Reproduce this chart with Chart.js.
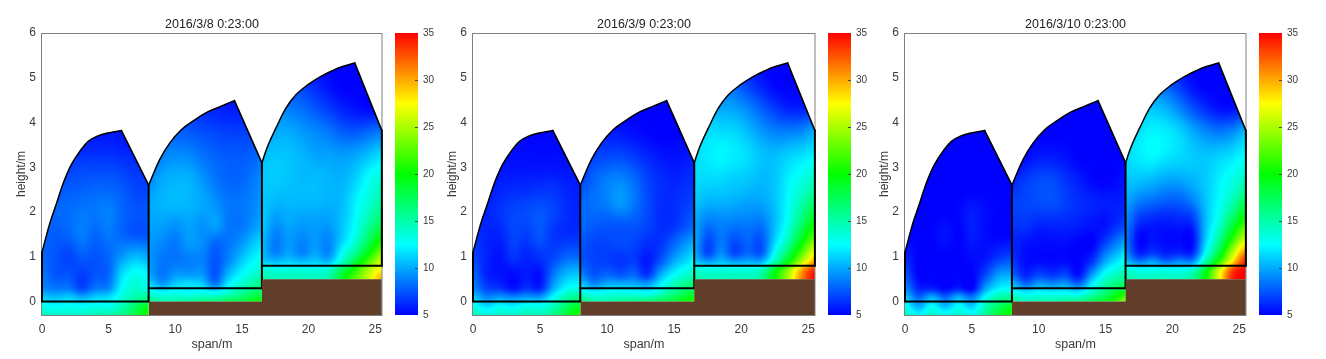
<!DOCTYPE html>
<html><head><meta charset="utf-8">
<style>html,body{margin:0;padding:0;background:#fff;width:1326px;height:359px;overflow:hidden}
canvas{position:absolute;top:0;filter:blur(0.35px)}</style>
<script src="https://cdn.jsdelivr.net/npm/chart.js@4/dist/chart.umd.min.js"></script>
</head><body>
<script>
// ---------- categories / tick labels ----------
const panelTitles = ['2016/3/8 0:23:00','2016/3/9 0:23:00','2016/3/10 0:23:00'];
const xTickValues = [0,5,10,15,20,25];
const colorTicks = [5,10,15,20,25,30,35];
const jetStops = [[5,'#0000ff'],[12.5,'#00ffff'],[20,'#00ff00'],[27.5,'#ffff00'],[35,'#ff0000']];

// ---------- greenhouse geometry (m) ----------
const arch1 = [[0,1.1],[0.6,1.76],[1.1,2.2],[1.6,2.65],[2.2,3.06],[2.85,3.36],[3.47,3.58],[4.1,3.69],[4.84,3.76],[5.96,3.82]];
const arch2 = [[8,2.6],[8.83,3.17],[9.58,3.54],[10.45,3.84],[11.32,4.03],[12.32,4.22],[13.32,4.35],[14.44,4.49]];
const arch3 = [[16.5,3.1],[16.93,3.47],[17.56,3.88],[18.3,4.32],[19.05,4.62],[19.93,4.84],[20.8,5.01],[21.8,5.16],[22.55,5.25],[23.47,5.33]];
const roof1 = [[5.96,3.82],[8,2.6]], roof2 = [[14.44,4.49],[16.5,3.1]], roof3 = [[23.47,5.33],[25.5,3.82]];
const floor1 = [[0,0],[8,0]], floor2 = [[8,0.3],[16.5,0.3]], floor3 = [[16.5,0.8],[25.5,0.8]];
const wall1 = [[0,0],[0,1.1]], wall2 = [[8,0],[8,2.6]], wall3 = [[16.5,0.3],[16.5,3.1]], wall4 = [[25.5,0.8],[25.5,3.82]];
const soilTop = [[8,0],[16.5,0],[16.5,0.5],[25.5,0.5]];
const base1 = [[8,2.6],[8,-0.3],[0,-0.3]], base2 = [[16.5,3.1],[16.5,0],[8,0]], base3 = [[25.5,3.82],[25.5,0.5],[16.5,0.5]];

// ---------- temperature grids (°C): rows go upward, columns left to right ----------
const xs1 = [0,1,2,3,4,5,6,7,8];
const xs2 = [8,9,10,11,12,13,14,15,16,16.5];
const xs3 = [16.5,17.5,18.5,19.5,20.5,21.5,22.5,23.5,24.5,25.5];
const ys1 = [-0.3,-0.1,0.1,0.3,0.6,1,1.5,2,2.5,3,3.5,4];
const ys2 = [0,0.2,0.4,0.6,0.9,1.3,1.7,2.2,2.7,3.2,3.7,4.2,4.6];
const ys3 = [0.5,0.7,0.9,1.1,1.4,1.8,2.3,2.8,3.3,3.8,4.3,4.8,5.4];

const day1span1 = [
[14.5,14,14,14,14.5,15,16,18,20.5],
[13,12.5,12.8,12.5,13,13,14.5,17,19],
[11,10.5,11,10,11,11.5,13.5,15,15.5],
[9,8.5,8.5,7,8.5,9,12.5,14,13],
[8.5,7.5,7.5,6.8,7.5,8,11.5,13,12.5],
[8,7.5,7,7.7,7.5,8,9.5,10.5,10],
[8,7.7,8,8.7,8,8.5,8,7.5,7.5],
[8,8,8.2,8.5,8.5,8.8,8,7.5,7.5],
[7,7.5,7.7,7.8,8,8,7.7,7,7],
[6.5,6.7,6.8,7,7,7,6.8,6.5,6.5],
[6,6,6,6,6,6,5.8,5.8,6],
[5.5,5.5,5.5,5.5,5.5,5.5,5.5,5.5,5.5]];
const day1span2 = [
[16,15,15,15.5,16,16.5,17.5,18,19.5,20],
[13.5,12.5,13,12.5,13,12.5,14,15.5,17,17.5],
[11.5,9.5,11,11.5,11,8.5,12,14,15.5,16],
[10,8.5,9.5,9.5,9.5,7.5,10.5,12.5,14,14.5],
[9.5,8.5,8.5,8.7,8.8,7.5,9,11,12.5,13],
[9.5,9,8.5,9.5,9.2,8,8.5,9.5,11,11.5],
[9.8,9.7,9.3,9.8,9.3,9.7,8.5,8.5,9.5,10],
[10,10.3,10.5,10.3,10,9.3,8.5,8.5,9,9.5],
[9,10,10.3,10.3,9.5,8.5,8,8,8.7,9.2],
[8,9,9.3,9.2,8.5,8,7.7,7.7,8,8.5],
[7,8,8,7.8,7.5,7.2,7,7,7.2,7.5],
[6.5,7,7,6.8,6.5,6.2,6,6,6,6],
[6,6,6,6,6,5.8,5.5,5.5,5.5,5.5]];
const day1span3 = [
[15,14.5,14.5,14.5,14.5,15,19,22.5,26,30],
[14,13.5,13.5,13.5,13.5,14,17.5,21,25,28],
[11,10.5,11,10.5,11,10.5,14,18,22,26],
[10.5,8.8,9.8,8.8,9.8,9,12.5,15.5,19.5,23.5],
[10.5,8.7,9.5,9,9.5,9,11,13.5,17,20],
[11,9.5,10,9.7,9.8,9.7,10.7,12.5,15,17],
[11,10.5,10.5,10.5,10.5,10.3,10.5,12,13.5,15],
[11,11,10.8,10.5,10.5,10.3,10.2,11,12.5,13.5],
[10.5,10.8,10.7,10.3,9.8,9.7,9.5,9.8,10.5,11.5],
[9.5,10,10,9.5,9,8.5,7.7,7.5,8,8.5],
[8.5,9,8.7,8.3,7.5,6.8,6,5.5,5.2,5.5],
[7.5,7.5,7.2,7,6.2,5.5,5,5,5,5],
[7,7,6.5,6,5.2,5,5,5,5,5]];

const day2span1 = [
[14.5,13.5,14,14,14.5,14.5,16,18.5,21],
[13,11.5,12.5,12,13,13,14.5,17,19],
[11,9,9.5,9,9.5,9.5,12.5,15,16],
[9,7,6.5,5.5,6.5,6,10,12.5,13],
[8,6,5.5,5.3,5.8,5.5,8.5,10.5,11],
[7,6,5.5,6.5,6,6.5,7,8,8],
[6.5,6,6,7,6.8,7.5,6.5,6.3,6.3],
[6,6,6.5,7,7.2,7.5,7,6.3,6],
[5.5,5.5,6,6.2,6.3,6.5,6.5,6,5.8],
[5.5,5.5,5.5,5.5,5.5,5.5,5.5,5.5,5.5],
[5.2,5.2,5.2,5.2,5.2,5.2,5.2,5.2,5.2],
[5,5,5,5,5,5,5,5,5]];
const day2span2 = [
[17,15,15,15.5,16,16.5,17.5,18.5,20,21],
[13.5,12.5,13,13,13,12.5,14,16,17.5,18],
[11,9,10,10,10,9.5,12,14.5,16,16.5],
[9,7.5,8,7.5,8,6.5,10,12.5,14,14.5],
[7.5,7,6.8,6.5,6.7,5.7,7.5,10,11.5,12.5],
[7.5,7,7,7.2,7,6.3,6.5,8,9.5,10],
[8,7.7,7.5,7.5,7.5,7,6.3,6.5,7.5,8],
[8,8.3,8.7,9.5,8.5,7.2,6.3,6.3,6.8,7],
[7,8,8.7,9,8.2,7,6.3,6,6.3,6.3],
[6,7,7.2,7.3,6.8,6.2,5.7,5.5,5.7,6],
[5.5,6,6,5.8,5.5,5.2,5,5,5.2,5.3],
[5.5,5.5,5.2,5,5,5,5,5,5,5],
[5,5,5,5,5,5,5,5,5,5]];
const day2span3 = [
[15,14.5,14.5,14.5,14.5,15.5,20,25,31,35],
[14,13.5,13.5,13.5,13.5,14.5,19,24,30,34],
[11,9.5,10.5,9.5,10,10,14.5,19.5,25,30],
[10,7,9,7,8,7.5,12.5,17,22,27],
[10,7.3,8.5,7.5,8,7.5,11,14.5,19,23],
[10,8.8,9,8.8,8.8,8.7,10.5,13,16.5,19.5],
[11,10.5,10.5,10.3,10,10,10.8,12.5,14.5,16.5],
[11.5,11.5,11.5,11.2,11,10.5,10.8,12,13,14],
[11.5,12,12.3,12,11.5,10.7,10.5,11,11.5,12],
[11,11.5,11.5,11.3,10.5,9.5,8.8,8.7,9,10],
[9.5,10.2,10,9.8,9,7.8,6.8,6,6,6.5],
[8,8,8.3,8,7,6,5.2,5,5,5],
[6.5,6.5,6.5,6,5.3,5,5,5,5,5]];

const day3span1 = [
[14.5,12.5,14,13,14,13,15.5,18.5,20.5],
[13,10,12.5,10.5,12.5,11,14.5,17,19],
[11,8,10,8,10,8.5,12.5,15,15.5],
[9,6,5.8,5,5.8,5,9.5,12,12.5],
[7.5,5,5,5,5,5,7,9.5,10],
[6,5,5,5,5,5.3,5.5,6.5,7],
[5,5,5,5.5,5,5.8,5.3,5,5],
[5,5,5,5,5.1,5.8,5.3,5,5],
[5,5,5,5,5,5,5,5,5],
[5,5,5,5,5,5,5,5,5],
[5,5,5,5,5,5,5,5,5],
[5,5,5,5,5,5,5,5,5]];
const day3span2 = [
[16,14.5,15,15,15.5,16,17.5,19,22,24],
[13,12,12.5,12.3,12.5,12,14.5,16.5,19,20],
[10.5,8,9.5,9,9.5,8,12,15,16.5,17],
[8,6,7,6.5,7,5.5,9.5,13,14.5,15],
[6.5,5.3,5.3,5.2,5.3,5,6.5,10,12,13],
[6,5.5,5.3,5.3,5.3,5,5,7,9,10],
[6.5,6.5,6,6,6,5.8,5.5,5.5,6.5,7],
[7,7,7.2,7.3,6.8,6.3,6,5.8,5.8,6],
[6,6.7,7.2,7.2,6.5,5.8,5.2,5,5.3,5.5],
[5,5.3,5.8,5.8,5.5,5,5,5,5,5],
[5,5,5,5,5,5,5,5,5,5],
[5,5,5,5,5,5,5,5,5,5],
[5,5,5,5,5,5,5,5,5,5]];
const day3span3 = [
[15,14.5,14.5,14.5,14.5,15.5,20,27,34,35],
[14,13,13,13,13,14,19,26,33,35],
[10.5,8.5,9.5,8,9,9,15,21,28,34],
[9,5.8,6.5,5.8,6,6,12.5,18,25,31],
[8.5,5.2,5.5,5.2,5.2,5.3,11,15.5,21,26],
[9,6.5,6,5.8,6,6.5,10.5,13.5,17.5,21],
[10,9,8.5,8,8,9,10.8,12.5,14.5,17],
[11,11,10.8,10.2,10.2,10.5,11,12,13,14],
[11.5,12,12.5,12,11.5,11,10.7,11,11.5,12.5],
[11,11.7,12.2,12,11.3,10,9,8.5,9,10.5],
[9.5,10.5,10.8,10.3,9,7.5,6.3,5.5,5.5,6],
[8,8.5,8.5,8,6.8,5.5,5,5,5,5],
[6,6,6,5.5,5,5,5,5,5,5]];

// ---------- layout ----------
const plotLefts = [42,473,905];
const plotWidths = [341,343,342];
const barLefts = [395,828,1259];
const FONT = '"Liberation Sans", Arial, sans-serif';
const TEXT = '#3a3a3a';

function toXY(a){return a.map(p=>({x:p[0],y:p[1]}));}
function jet(v){
  const t=Math.max(0,Math.min(1,(v-5)/30))*4, i=Math.min(3,Math.floor(t)), f=t-i;
  const c=[[0,0,255],[0,255,255],[0,255,0],[255,255,0],[255,0,0]];
  return [0,1,2].map(k=>c[i][k]+(c[i+1][k]-c[i][k])*f);
}
function locate(arr,v){
  let i=0; while(i<arr.length-2 && v>arr[i+1]) i++;
  return i+Math.max(0,Math.min(1,(v-arr[i])/(arr[i+1]-arr[i])));
}
function cr(a,b,c,d,t){return b+0.5*t*(c-a+t*(2*a-5*b+4*c-d+t*(3*(b-c)+d-a)));}
function sample(g,u,w){
  const R=g.length-1,C=g[0].length-1;
  const j=Math.min(R-1,Math.floor(w)),fj=w-j,i=Math.min(C-1,Math.floor(u)),fi=u-i;
  const row=[];
  for(let r=j-1;r<=j+2;r++){
    const q=g[Math.max(0,Math.min(R,r))];
    const at=k=>q[Math.max(0,Math.min(C,k))];
    row.push(cr(at(i-1),at(i),at(i+1),at(i+2),fi));
  }
  return cr(row[0],row[1],row[2],row[3],fj);
}
function heatSpan(chart,grid,xs,ys,archIndex,tail){
  const {ctx,chartArea:a,scales:{x,y}}=chart;
  const W=Math.ceil(a.right-a.left),H=Math.ceil(a.bottom-a.top);
  const off=document.createElement('canvas');off.width=W;off.height=H;
  const oc=off.getContext('2d');const img=oc.createImageData(W,H);
  const pxL=x.getPixelForValue(xs[0]),pxR=x.getPixelForValue(xs[xs.length-1]);
  for(let py=0;py<H;py++){
    const w=locate(ys,y.getValueForPixel(a.top+py+.5));
    for(let px=Math.max(0,Math.floor(pxL-a.left)-1);px<Math.min(W,Math.ceil(pxR-a.left)+1);px++){
      const u=locate(xs,x.getValueForPixel(a.left+px+.5));
      const rgb=jet(sample(grid,u,w)),o=(py*W+px)*4;
      img.data[o]=rgb[0];img.data[o+1]=rgb[1];img.data[o+2]=rgb[2];img.data[o+3]=255;
    }
  }
  oc.putImageData(img,0,0);
  ctx.save();ctx.beginPath();
  // the curved part of the clip is the arch line element itself, so fill and outline agree
  chart.getDatasetMeta(archIndex).dataset.path(ctx);
  tail.forEach(p=>ctx.lineTo(x.getPixelForValue(p[0]),y.getPixelForValue(p[1])));
  ctx.closePath();ctx.clip();ctx.drawImage(off,a.left,a.top);ctx.restore();
}
const heatGrids=[[day1span1,day1span2,day1span3],[day2span1,day2span2,day2span3],[day3span1,day3span2,day3span3]];
const heatPlugin={id:'heat',beforeDatasetsDraw(chart,args,opts){
  const g=heatGrids[opts.panel];
  heatSpan(chart,g[0],xs1,ys1,1,base1);
  heatSpan(chart,g[1],xs2,ys2,2,base2);
  heatSpan(chart,g[2],xs3,ys3,3,base3);
  const a=chart.chartArea,c=chart.ctx;
  c.save();c.strokeStyle='#808080';c.lineWidth=1;
  c.strokeRect(Math.round(a.left)-.5,Math.round(a.top)+.5,Math.round(a.right-a.left)+.5,Math.round(a.bottom-a.top));
  c.restore();
}};
function lineDs(pts,w,tension){return {type:'scatter',showLine:true,data:toXY(pts),borderColor:'#000',borderWidth:w,pointRadius:0,tension:tension||0,fill:false,clip:false,borderCapStyle:'round',borderJoinStyle:'round'};}

plotLefts.forEach((left,p)=>{
  const cv=document.createElement('canvas');
  const w=42+plotWidths[p]+6;
  cv.width=w;cv.height=359;cv.style.left=(left-42)+'px';cv.style.width=w+'px';cv.style.height='359px';
  document.body.appendChild(cv);
  new Chart(cv,{
    type:'scatter',
    data:{datasets:[
      {type:'scatter',showLine:true,data:toXY(soilTop),borderWidth:0,borderColor:'#613e2a',backgroundColor:'#613e2a',pointRadius:0,fill:{value:-0.3}},
      lineDs(arch1,1.5,0.4),lineDs(arch2,1.5,0.4),lineDs(arch3,1.5,0.4),
      lineDs(roof1,1.6),lineDs(roof2,1.6),lineDs(roof3,1.6),
      lineDs(floor1,2),lineDs(floor2,2),lineDs(floor3,2),
      lineDs(wall1,2),lineDs(wall2,2),lineDs(wall3,2),lineDs(wall4,2)
    ]},
    plugins:[heatPlugin],
    options:{
      responsive:false,animation:false,
      layout:{padding:{left:0,right:5,top:0,bottom:0}},
      plugins:{legend:{display:false},tooltip:{enabled:false},
        heat:{panel:p},
        title:{display:true,text:panelTitles[p],fullSize:false,color:'#222',font:{family:FONT,size:12.5,weight:'normal',lineHeight:1.2},padding:{top:17,bottom:1}}},
      scales:{
        x:{type:'linear',min:0,max:25.5,
          afterFit(s){s.height=44;},
          afterBuildTicks(s){s.ticks=xTickValues.map(v=>({value:v}));},
          grid:{display:false,drawTicks:false},border:{display:false},
          ticks:{color:TEXT,font:{family:FONT,size:12},padding:7,maxRotation:0,autoSkip:false},
          title:{display:true,text:'span/m',color:TEXT,font:{family:FONT,size:12.5},padding:{top:0,bottom:7}}},
        y:{type:'linear',min:-0.3,max:6,
          afterFit(s){s.width=42;},
          afterBuildTicks(s){s.ticks=[0,1,2,3,4,5,6].map(v=>({value:v}));},
          grid:{display:false,drawTicks:false},border:{display:false},
          ticks:{color:TEXT,font:{family:FONT,size:12},padding:6,autoSkip:false},
          title:{display:true,text:'height/m',color:TEXT,font:{family:FONT,size:12},padding:{top:14,bottom:0}}}
      }
    }
  });
  // colour bar
  const cb=document.createElement('canvas');
  cb.width=46;cb.height=359;cb.style.left=barLefts[p]+'px';cb.style.width='46px';cb.style.height='359px';
  document.body.appendChild(cb);
  new Chart(cb,{
    type:'bar',
    data:{labels:['T'],datasets:[{data:[[colorTicks[0],colorTicks[colorTicks.length-1]]],barPercentage:1,categoryPercentage:1,
      backgroundColor(ctx){
        const c=ctx.chart;if(!c.chartArea) return '#00f';
        const y=c.scales.y,g=c.ctx.createLinearGradient(0,y.getPixelForValue(5),0,y.getPixelForValue(35));
        jetStops.forEach(s=>g.addColorStop((s[0]-5)/30,s[1]));return g;
      }}]},
    plugins:[{id:'cbTicks',afterDatasetsDraw(c){
      const {ctx,chartArea:a,scales:{y}}=c;ctx.save();ctx.strokeStyle='#444';ctx.lineWidth=1;
      colorTicks.slice(1,-1).forEach(v=>{const Y=Math.round(y.getPixelForValue(v))+.5;ctx.beginPath();ctx.moveTo(a.right,Y);ctx.lineTo(a.right-3,Y);ctx.stroke();});
      ctx.restore();
    }}],
    options:{
      responsive:false,animation:false,
      layout:{padding:{left:0,right:0,top:33,bottom:44}},
      plugins:{legend:{display:false},tooltip:{enabled:false},title:{display:false}},
      scales:{
        x:{display:false},
        y:{position:'right',min:5,max:35,afterFit(s){s.width=23;},
          afterBuildTicks(s){s.ticks=colorTicks.map(v=>({value:v}));},
          grid:{display:false,drawTicks:false},border:{display:false},
          ticks:{color:TEXT,font:{family:FONT,size:10},padding:5,autoSkip:false}}
      }
    }
  });
});
</script>
</body></html>
